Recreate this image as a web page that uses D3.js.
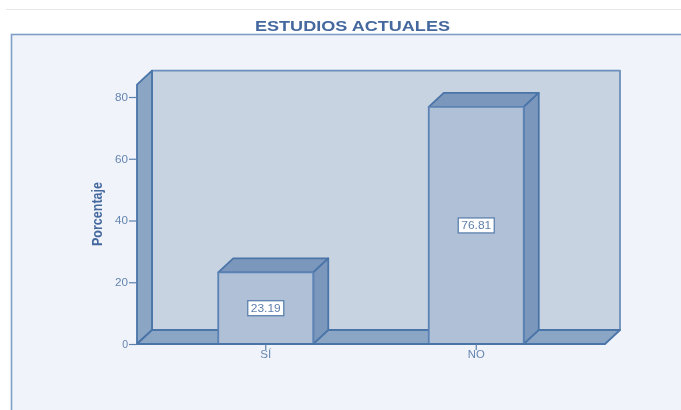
<!DOCTYPE html>
<html>
  <head>
    <meta charset="utf-8">
    <title></title>
    <script src="https://d3js.org/d3.v7.min.js"></script>
  </head>
  <style>
    body{
      font-family: "Liberation Sans", sans-serif;
      background-color: #fff;
      margin: 0;
    }
    svg { display: block }
    .axis path { display: none }
    .axis .tick line { stroke: #5d81ae; stroke-width: 1.2 }
    .axis .tick text { fill: #6585b0; font-size: 10.5px; font-family: "Liberation Sans", sans-serif }
  </style>
  <body>
    <script>
    const categories = ["SÍ", "NO"]
    const percentages = [23.19, 76.81]
    const yTicks = [0, 20, 40, 60, 80]
    const wallTop = 84

    const width = 681, height = 410
    const plot = { left: 137, right: 605, bottom: 344, top: 97 }
    const depthX = 15, depthY = 14

    const lineColor = "#4a74a8"

    const svg = d3.select("body").append("svg")
      .attr("width", width)
      .attr("height", height)

    svg.append("filter").attr("id", "soft")
      .append("feGaussianBlur").attr("stdDeviation", 0.45)

    const g = svg.append("g").attr("filter", "url(#soft)")

    const x = d3.scaleBand()
      .domain(categories)
      .range([plot.left, plot.right])
      .paddingInner(0.5487)
      .paddingOuter(0.386)

    const y = d3.scaleLinear()
      .domain([0, 80])
      .range([plot.bottom, plot.top])

    // page rule and chart frame
    g.append("line")
      .attr("x1", 6).attr("x2", width)
      .attr("y1", 9.5).attr("y2", 9.5)
      .attr("stroke", "#e6e8ea")

    g.append("rect")
      .attr("x", 11.5).attr("y", 34.5)
      .attr("width", width + 20).attr("height", height)
      .attr("fill", "#f0f3f9")
      .attr("stroke", "#7f9fc6")
      .attr("stroke-width", 1.6)

    g.append("text")
      .attr("x", 352.5).attr("y", 31)
      .attr("text-anchor", "middle")
      .attr("font-size", 15.5)
      .attr("font-weight", "bold")
      .attr("fill", "#44699f")
      .attr("textLength", 195)
      .attr("lengthAdjust", "spacingAndGlyphs")
      .text("ESTUDIOS ACTUALES")

    function poly(points, fill, color) {
      g.append("polygon")
        .attr("points", points.map(p => p.join(",")).join(" "))
        .attr("fill", fill)
        .attr("stroke", color || lineColor)
        .attr("stroke-width", 1.8)
        .attr("stroke-linejoin", "round")
    }

    // back wall, side wall, floor
    const y0 = y(0), yt = y(wallTop)
    const left = plot.left, right = plot.right
    poly([[left + depthX, yt - depthY], [right + depthX, yt - depthY], [right + depthX, y0 - depthY], [left + depthX, y0 - depthY]], "#c8d3e1", "#6a8fbc")
    poly([[left, yt], [left + depthX, yt - depthY], [left + depthX, y0 - depthY], [left, y0]], "#8ba6c5")
    poly([[left, y0], [left + depthX, y0 - depthY], [right + depthX, y0 - depthY], [right, y0]], "#8ba6c5")

    // bars
    categories.forEach(function(c, i){
      let x0 = x(c), x1 = x0 + x.bandwidth(), yv = y(percentages[i])
      poly([[x0, yv], [x0 + depthX, yv - depthY], [x1 + depthX, yv - depthY], [x1, yv]], "#7c97bc")
      poly([[x1, yv], [x1 + depthX, yv - depthY], [x1 + depthX, y0 - depthY], [x1, y0]], "#7c97bc")
      poly([[x0, yv], [x1, yv], [x1, y0], [x0, y0]], "#b0c0d6", "#5a82b4")

      let cx = x0 + x.bandwidth() / 2, cy = (yv + y0) / 2
      g.append("rect")
        .attr("x", cx - 18).attr("y", cy - 7.5)
        .attr("width", 36).attr("height", 15)
        .attr("fill", "#fff")
        .attr("stroke", "#5d81ae")
        .attr("stroke-width", 1.3)
      g.append("text")
        .attr("x", cx).attr("y", cy + 4)
        .attr("text-anchor", "middle")
        .attr("font-size", 11)
        .attr("fill", "#5f7fab")
        .attr("textLength", 30)
        .attr("lengthAdjust", "spacingAndGlyphs")
        .text(percentages[i].toFixed(2))
    })

    // baseline
    g.append("line")
      .attr("x1", left).attr("x2", right)
      .attr("y1", y0).attr("y2", y0)
      .attr("stroke", lineColor)
      .attr("stroke-width", 1.8)

    g.append("g")
      .attr("class", "axis")
      .attr("transform", "translate(" + left + ",0)")
      .call(d3.axisLeft(y).tickValues(yTicks).tickSize(8).tickPadding(1))
      .selectAll("text")
      .filter(d => d > 0)
      .attr("textLength", 13)
      .attr("lengthAdjust", "spacingAndGlyphs")

    g.append("g")
      .attr("class", "axis")
      .attr("transform", "translate(0," + plot.bottom + ")")
      .call(d3.axisBottom(x).tickSize(6).tickPadding(1))
      .selectAll("text")
      .attr("textLength", d => d == "NO" ? 17 : 11)
      .attr("lengthAdjust", "spacingAndGlyphs")

    g.append("text")
      .attr("transform", "translate(102,214) rotate(-90)")
      .attr("text-anchor", "middle")
      .attr("font-size", 14)
      .attr("font-weight", "bold")
      .attr("fill", "#44699f")
      .attr("textLength", 64)
      .attr("lengthAdjust", "spacingAndGlyphs")
      .text("Porcentaje")
    </script>
  </body>
</html>
